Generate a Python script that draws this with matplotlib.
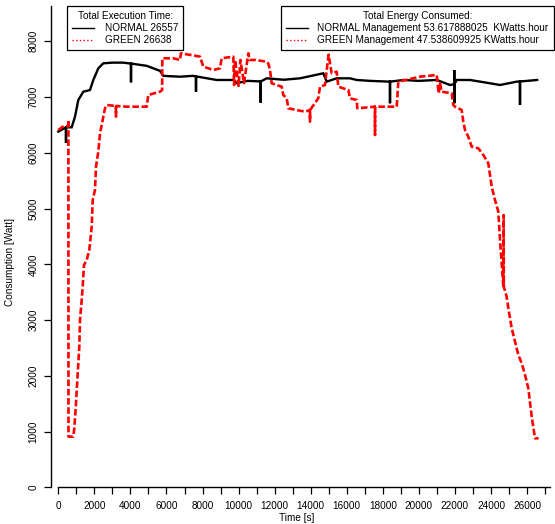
import matplotlib
matplotlib.use("Agg")
import matplotlib.pyplot as plt
from matplotlib.lines import Line2D

plt.rcParams['font.family'] = ['Liberation Sans', 'DejaVu Sans']
plt.rcParams['font.size'] = 7.2

# NORMAL management: power readings (time [s], consumption [Watt])
normal_t = [0, 420, 427, 434, 743, 926, 1110, 1387, 1758, 1941, 2219, 2496,
            3000, 3600, 4025, 4032, 4040, 4903, 5640, 5824, 6750, 7470,
            7630, 7637, 7645, 8785, 9706, 9890, 10500, 11220, 11226, 11232,
            11558, 12500, 13405, 14699, 14885, 15440, 16179, 16550, 17300,
            18390, 18397, 18404, 19135, 20000, 20987, 21725, 21958, 21962,
            21965, 21970, 22096, 22835, 23700, 24498, 25424, 25600, 25607,
            25614, 26000, 26557]
normal_w = [6380, 6457, 6180, 6457, 6457, 6648, 6947, 7096, 7126, 7306, 7515,
            7605, 7617, 7617, 7600, 7264, 7600, 7560, 7470, 7380, 7365, 7380,
            7370, 7096, 7370, 7306, 7306, 7250, 7290, 7280, 6899, 7280,
            7336, 7310, 7336, 7426, 7276, 7336, 7336, 7306, 7290,
            7276, 6888, 7276, 7306, 7290, 7306, 7216, 7230, 7485,
            6888, 7230, 7306, 7306, 7260, 7216, 7276, 7280, 6857,
            7280, 7290, 7306]

# GREEN management
green_t = [0, 300, 555, 560, 565, 832, 887, 982, 1054, 1165, 1204, 1298,
           1353, 1425, 1575, 1719, 1853, 1908, 2035, 2091, 2219, 2313, 2462,
           2590, 2684, 3190, 3200, 3210, 3794, 4903, 4992, 5640, 5760, 5768,
           6378, 6750, 6800, 7859, 8042, 8597, 8968, 9060, 9706, 9750,
           9800, 10000, 10100, 10300, 10540, 10600, 10909, 11558, 11650,
           11742, 11836, 12390, 12479, 12668, 12757, 13682, 13955, 13960,
           13965, 14420, 14515, 14792, 14975, 14990, 15163, 15440, 15530,
           16087, 16179, 16550, 16583, 17560, 17566, 17572, 18770, 18858,
           20062, 20987, 21100, 21170, 21264, 21819, 21907, 21999, 22372,
           22462, 22557, 22740, 22928, 23295, 23572, 23849, 24038, 24221,
           24404, 24498, 24682, 24700, 24710, 24867, 24960, 25148, 25332,
           25515, 25703, 25886, 26068, 26257, 26440, 26638]
green_w = [6409, 6480, 6480, 6590, 908, 908, 1058, 1507, 1925, 2522, 3001,
           3360, 3598, 3987, 4077, 4257, 4675, 5153, 5333, 5751, 6020, 6350,
           6588, 6798, 6857, 6840, 6648, 6840, 6827, 6827, 7037, 7096, 7126,
           7695, 7695, 7665, 7785, 7725, 7545, 7486, 7515, 7695, 7725, 7216,
           7665, 7200, 7665, 7250, 7785, 7665, 7665, 7635, 7600,
           7486, 7246, 7186, 7037, 6977, 6798, 6737, 6767, 6558,
           6767, 6977, 7186, 7216, 7725, 7760, 7426, 7455, 7186,
           7126, 6977, 6947, 6798, 6827, 6319, 6827, 6827, 7276,
           7365, 7396, 7067, 7246, 7096, 7067, 6857, 6827, 6767,
           6558, 6409, 6289, 6110, 6080, 5961, 5812, 5392, 5153,
           4944, 4436, 3598, 4884, 3598, 3419, 3211, 2852, 2612,
           2373, 2224, 2014, 1776, 1266, 879, 879]

x_ticks = list(range(0, 28000, 1000))
x_labels = [str(v) if v % 2000 == 0 else '' for v in x_ticks]
y_ticks = list(range(0, 9000, 1000))

exec_time_normal = 26557
exec_time_green = 26638
energy_normal = '53.617888025'
energy_green = '47.538609925'

W, H = 555, 524
fig = plt.figure(figsize=(W / 100, H / 100), dpi=100)
ax = fig.add_axes([51 / W, 1 - 487.3 / H, (550 - 51) / W, (487.3 - 6) / H])

ax.plot(normal_t, normal_w, color='black', lw=1.7, solid_joinstyle='miter')
ax.plot(green_t, green_w, color='red', lw=1.9, linestyle=(0, (2.5, 1.0)))

ax.set_xlim(-405, 27271)
ax.set_ylim(0, 8633)

ax.spines['top'].set_visible(False)
ax.spines['right'].set_visible(False)
ax.spines['left'].set_bounds(0, 8633)
ax.spines['bottom'].set_bounds(0, 27271)
for s in ('left', 'bottom'):
    ax.spines[s].set_linewidth(1.0)

ax.set_xticks(x_ticks)
ax.set_xticklabels(x_labels)
ax.set_yticks(y_ticks)
ax.set_yticklabels([str(v) for v in y_ticks], rotation=90, va='center')
ax.tick_params(axis='x', length=5, width=0.9, pad=5)
ax.tick_params(axis='y', length=5, width=0.9, pad=4)

fig.text(297 / W, 1 - 518 / H, 'Time [s]', ha='center', va='center')
fig.text(10 / W, 1 - 262 / H, 'Consumption [Watt]', ha='center', va='center',
         rotation=90)

# legends
h1 = [Line2D([], [], color='black', lw=1.0),
      Line2D([], [], color='red', lw=1.0, linestyle=':')]
leg1 = ax.legend(h1, ['NORMAL %d' % exec_time_normal, 'GREEN %d' % exec_time_green],
                 title='Total Execution Time:', loc='upper left',
                 bbox_to_anchor=(67 / W, 1 - 6 / H), bbox_transform=fig.transFigure,
                 fancybox=False, edgecolor='black', framealpha=1,
                 handlelength=2.2, handletextpad=1.1, borderpad=0.5,
                 labelspacing=0.2, borderaxespad=0)
leg1.get_frame().set_linewidth(0.9)
ax.add_artist(leg1)

leg2 = ax.legend(h1, ['NORMAL Management %s  KWatts.hour' % energy_normal,
                      'GREEN Management %s KWatts.hour' % energy_green],
                 title='Total Energy Consumed:', loc='upper right',
                 bbox_to_anchor=(553.5 / W, 1 - 6 / H), bbox_transform=fig.transFigure,
                 fancybox=False, edgecolor='black', framealpha=1,
                 handlelength=2.2, handletextpad=0.9, borderpad=0.5,
                 labelspacing=0.2, borderaxespad=0)
leg2.get_frame().set_linewidth(0.9)

fig.savefig('out.png', dpi=100)
